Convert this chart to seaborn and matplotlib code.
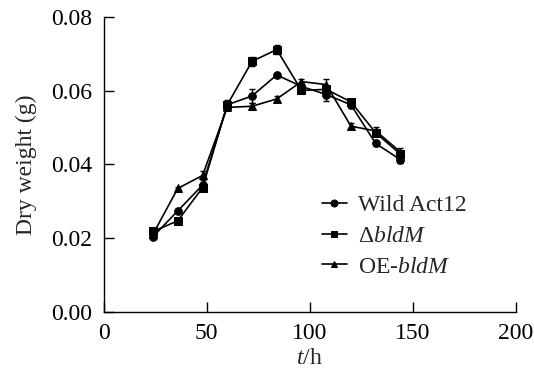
import matplotlib
matplotlib.use("Agg")
import matplotlib.pyplot as plt
import pandas as pd
import seaborn as sns

# ---------------------------------------------------------------------------
# DATA
# ---------------------------------------------------------------------------
hours = [24, 36, 48, 60, 72, 84, 96, 108, 120, 132, 144]

wild_mean = [0.0204, 0.0274, 0.0344, 0.0562, 0.0586, 0.0643, 0.0612, 0.0590, 0.0562, 0.0457, 0.0413]
wild_err  = [0.0004, 0.0005, 0.0006, 0.0006, 0.0018, 0.0005, 0.0008, 0.0018, 0.0008, 0.0006, 0.0010]

dbldm_mean = [0.0218, 0.0247, 0.0337, 0.0562, 0.0680, 0.0712, 0.0601, 0.0604, 0.0570, 0.0486, 0.0428]
dbldm_err  = [0.0008, 0.0005, 0.0006, 0.0012, 0.0012, 0.0012, 0.0008, 0.0008, 0.0008, 0.0008, 0.0008]

oe_mean = [0.0211, 0.0335, 0.0370, 0.0555, 0.0558, 0.0578, 0.0625, 0.0617, 0.0504, 0.0491, 0.0434]
oe_err  = [0.0006, 0.0005, 0.0012, 0.0008, 0.0008, 0.0008, 0.0008, 0.0014, 0.0008, 0.0012, 0.0010]

strains = ["Wild Act12", r"$\Delta$$\it{bldM}$", r"OE-$\it{bldM}$"]
markers = ["o", "s", "^"]

# ---------------------------------------------------------------------------
# PLOT
# ---------------------------------------------------------------------------
sns.set_theme(style="ticks")
plt.rcParams.update({
    "font.family": ["Liberation Serif", "DejaVu Serif"],
    "mathtext.fontset": "custom",
    "mathtext.rm": "Liberation Serif",
    "mathtext.it": "Liberation Serif:italic",
    "font.size": 17,
    "xtick.direction": "in",
    "ytick.direction": "in",
    "axes.linewidth": 1.0,
    "axes.edgecolor": "black",
})

means = [wild_mean, dbldm_mean, oe_mean]
errs = [wild_err, dbldm_err, oe_err]

df = pd.concat(
    [pd.DataFrame({"t": hours, "w": m, "strain": s}) for m, s in zip(means, strains)],
    ignore_index=True,
)

fig = plt.figure(figsize=(5.34, 3.82), dpi=100)
ax = fig.add_axes([0.194, 0.184, 0.772, 0.771])

sns.lineplot(data=df, x="t", y="w", style="strain", markers=dict(zip(strains, markers)),
             dashes=False, color="black", linewidth=1.2, ax=ax, errorbar=None,
             markersize=5.5, markeredgecolor="black", legend=True)

for m, e in zip(means, errs):
    ax.errorbar(hours, m, yerr=e, fmt="none", ecolor="black", elinewidth=1.0,
                capsize=2.5, capthick=1.0)

ax.set_xlim(0, 200)
ax.set_ylim(0, 0.08)
ax.set_xticks([0, 50, 100, 150, 200])
ax.set_yticks([0.00, 0.02, 0.04, 0.06, 0.08])
ax.set_yticklabels([f"{v:.2f}" for v in [0.00, 0.02, 0.04, 0.06, 0.08]])
ax.tick_params(axis="both", length=7.5, width=1.0, pad=8, labelsize=17, colors="black")
sns.despine(ax=ax)

ax.set_xlabel(r"$\it{t}$/h", fontsize=17, labelpad=3)
ax.set_ylabel("Dry weight (g)", fontsize=17, labelpad=10)

leg = ax.legend(loc="center left", bbox_to_anchor=(0.53, 0.257), frameon=False,
                fontsize=17, handlelength=1.05, handletextpad=0.45,
                labelspacing=0.4, borderaxespad=0, borderpad=0)
for h in leg.legend_handles:
    h.set_markersize(5)

fig.savefig("out.png", dpi=100)
